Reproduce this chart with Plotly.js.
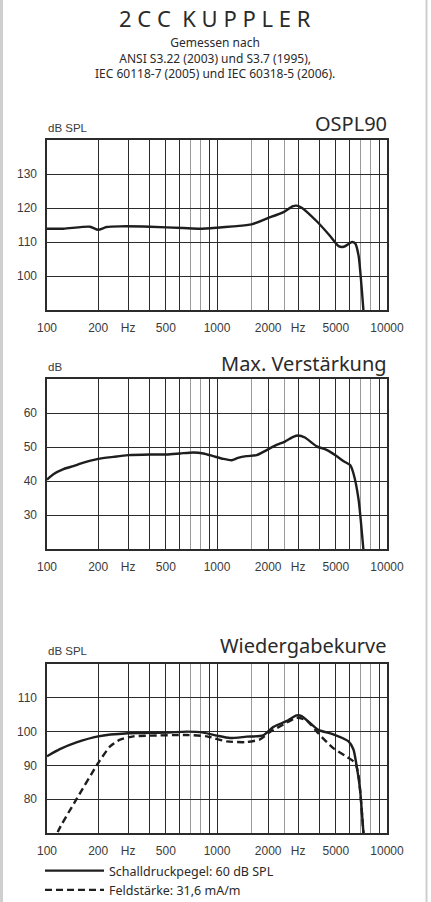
<!DOCTYPE html>
<html><head><meta charset="utf-8">
<script src="https://cdn.plot.ly/plotly-3.0.1.min.js"></script>
<style>html,body{margin:0;padding:0;background:#fff;overflow:hidden;}#chart{width:431px;height:912px;}</style>
</head><body><div id="chart"></div>
<script>
// OSPL90
const osplFreq = [100,125,179,200,224,269,404,634,794,1000,1246,1600,1960,2460,2780,2940,3150,3860,4640,5190,5560,5940,6220,6500,6810,7000,7260,7350];
const osplDb   = [113.9,113.9,114.5,113.6,114.4,114.6,114.5,114.1,113.9,114.2,114.6,115.2,116.9,118.8,120.5,120.7,120.1,116.1,111.7,108.8,108.6,109.4,110.0,109.6,105.9,100.0,90.1,85];
// Max. Verstärkung
const gainFreq = [100,109,125,143,164,200,246,300,404,506,606,725,833,952,1090,1220,1330,1490,1710,1960,2240,2510,2810,3000,3290,3860,4440,5000,5560,6070,6350,6810,7260,7350];
const gainDb   = [40.4,42.0,43.5,44.4,45.4,46.5,47.1,47.6,47.8,47.8,48.1,48.4,48.1,47.3,46.5,46.1,46.8,47.3,47.6,49.1,50.6,51.6,53.0,53.4,52.8,50.2,49.1,47.5,45.8,44.7,42.2,34.4,20.0,17];
// Wiedergabekurve – Schalldruckpegel 60 dB SPL
const splFreq = [100,119,149,200,300,506,663,833,1000,1190,1490,1870,2150,2560,2940,3150,3940,4830,5940,6350,6630,6940,7260,7350];
const splDb   = [92.7,94.8,96.8,98.6,99.5,99.7,100.0,99.7,98.8,98.1,98.5,98.9,101.4,103.1,104.8,104.6,100.5,99.2,97.1,94.7,89.8,82.9,70.4,67];
// Wiedergabekurve – Feldstärke 31,6 mA/m
const fieldFreq = [112,116,149,200,235,269,322,404,663,872,1140,1490,1790,2050,2460,2940,3370,3940,4830,5810,6500,6810,7260,7350];
const fieldDb   = [67,70.4,80.0,90.7,95.6,97.6,98.6,98.8,99.0,98.6,97.1,96.9,97.7,99.9,102.1,104.1,103.3,99.5,95.1,92.5,90.7,86.8,70.4,67];

const xTickVals = [100,200,300,400,500,600,900,1000,2000,3000,4000,5000,6000,9000,10000];
const xTickText = ["100","200","Hz","","500","","","1000","2000","Hz","","5000","","","10000"];
const xMinorVals = [700,800,1600,2500,7000,8000];
const y1Ticks = [100,110,120,130];
const y2Ticks = [30,40,50,60];
const y3Ticks = [80,90,100,110];

// layout is slightly taller than the 902px window so the legend fits without pushing margins
const W = 431, H = 912;
const px = v => v / W;
const py = v => 1 - v / H;
const dark = '#2b2b2b';
const tickFont = {family: 'Liberation Sans, Arial, sans-serif', size: 12, color: '#3a3a3a'};
const headFont = 'Noto Sans, Open Sans, sans-serif';

function xax(anchor) {
  return {
    type: 'log', range: [2, 4], domain: [px(47), px(387)], anchor: anchor,
    tickmode: 'array', tickvals: xTickVals, ticktext: xTickText, ticks: '',
    showgrid: true, gridcolor: dark, gridwidth: 1,
    minor: {tickmode: 'array', tickvals: xMinorVals, showgrid: true, gridcolor: '#9a9a9a', gridwidth: 1, ticks: ''},
    showline: true, linecolor: dark, linewidth: 1.6, mirror: true,
    zeroline: false, tickfont: tickFont, fixedrange: true, ticklabelstandoff: 6
  };
}
function yax(anchor, top, bottom, range, ticks) {
  return {
    range: range, domain: [py(bottom), py(top)], anchor: anchor,
    tickmode: 'array', tickvals: ticks, ticks: '',
    showgrid: true, gridcolor: dark, gridwidth: 1,
    showline: true, linecolor: dark, linewidth: 1.6, mirror: true,
    zeroline: false, tickfont: tickFont, fixedrange: true, ticklabelstandoff: 6
  };
}

const lineStyle = {color: '#1e1e1e', width: 2.4, shape: 'spline', smoothing: 0.6};

const traces = [
  {x: osplFreq, y: osplDb, xaxis: 'x', yaxis: 'y', mode: 'lines', line: lineStyle, showlegend: false, hoverinfo: 'skip'},
  {x: gainFreq, y: gainDb, xaxis: 'x2', yaxis: 'y2', mode: 'lines', line: lineStyle, showlegend: false, hoverinfo: 'skip'},
  {x: splFreq, y: splDb, xaxis: 'x3', yaxis: 'y3', mode: 'lines', line: lineStyle, name: 'Schalldruckpegel: 60 dB SPL', showlegend: true, hoverinfo: 'skip'},
  {x: fieldFreq, y: fieldDb, xaxis: 'x3', yaxis: 'y3', mode: 'lines', line: Object.assign({}, lineStyle, {dash: '7px,4px'}), name: 'Feldstärke: 31,6 mA/m', showlegend: true, hoverinfo: 'skip'}
];

function ann(text, x, y, size, anchor, family, color) {
  return {text: text, x: px(x), y: py(y), xref: 'paper', yref: 'paper', xanchor: anchor, yanchor: 'middle',
          showarrow: false, font: {family: family, size: size, color: color || '#2a2a2a'}};
}

const layout = {
  width: W, height: H, margin: {l: 0, r: 0, t: 0, b: 0},
  paper_bgcolor: '#ffffff', plot_bgcolor: '#ffffff',
  xaxis: xax('y'), yaxis: yax('x', 140, 310, [90, 140], y1Ticks),
  xaxis2: xax('y2'), yaxis2: yax('x2', 379, 549, [20, 70], y2Ticks),
  xaxis3: xax('y3'), yaxis3: yax('x3', 664, 833, [70, 120], y3Ticks),
  showlegend: true,
  legend: {x: px(40), y: py(856), xanchor: 'left', yanchor: 'top', bgcolor: 'rgba(0,0,0,0)',
           font: {family: headFont, size: 12.5, color: '#2a2a2a'}, tracegroupgap: 0, itemwidth: 59},
  annotations: [
    ann('2\u00a0C\u00a0C\u00a0\u00a0K\u00a0U\u00a0P\u00a0P\u00a0L\u00a0E\u00a0R', 215, 18, 22, 'center', headFont),
    ann('Gemessen nach<br>ANSI S3.22 (2003) und S3.7 (1995),<br>IEC 60118-7 (2005) und IEC 60318-5 (2006).', 215, 58, 12, 'center', headFont),
    ann('OSPL90', 389, 123, 20, 'right', headFont),
    ann('Max. Verstärkung', 389, 363, 20, 'right', headFont),
    ann('Wiedergabekurve', 389, 645, 20, 'right', headFont),
    ann('dB SPL', 46, 128, 11.5, 'left', tickFont.family, '#3a3a3a'),
    ann('dB', 46, 367, 11.5, 'left', tickFont.family, '#3a3a3a'),
    ann('dB SPL', 46, 651, 11.5, 'left', tickFont.family, '#3a3a3a')
  ],
  shapes: [
    {type: 'line', xref: 'paper', yref: 'paper', x0: px(1.5), x1: px(1.5), y0: 0, y1: 1, line: {color: '#cfcfcf', width: 3}},
    {type: 'line', xref: 'paper', yref: 'paper', x0: px(426.5), x1: px(426.5), y0: 0, y1: 1, line: {color: '#cfcfcf', width: 2}}
  ]
};

Plotly.newPlot('chart', traces, layout, {staticPlot: true, displayModeBar: false});
</script></body></html>
